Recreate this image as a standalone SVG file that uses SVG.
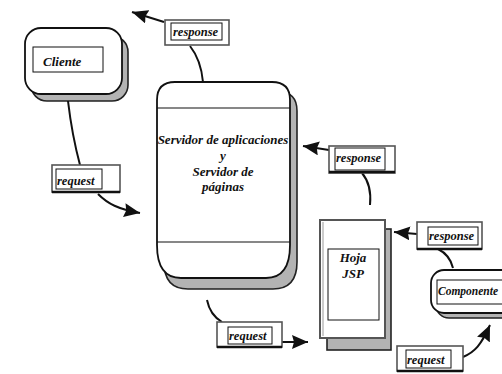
<svg xmlns="http://www.w3.org/2000/svg" width="502" height="374" viewBox="0 0 502 374">
  <style>
    .shade { fill: #b3b3b3; stroke: #222; stroke-width: 1.6; }
    .face { fill: #fff; stroke: #111; stroke-width: 1.8; }
    .inner { fill: #fff; stroke: #111; stroke-width: 1; }
    .rule { stroke: #111; stroke-width: 1.2; }
    .frame { fill: #fff; stroke: #555; stroke-width: 1.6; }
    .frame-base { stroke: #111; stroke-width: 2.4; }
    .t { font-family: "Liberation Serif", "Times New Roman", serif; font-weight: bold; font-style: italic; fill: #111; }
    .node { font-size: 13px; }
    .lab { font-size: 12.5px; }
    .wire { fill: none; stroke: #111; stroke-width: 2; }
  </style>
  <defs>
    <marker id="head" markerUnits="userSpaceOnUse" markerWidth="18" markerHeight="14" refX="16" refY="7" orient="auto">
      <path d="M0,0 L16,7 L0,14 L2,7 Z" fill="#111"/>
    </marker>
  </defs>

  <rect width="502" height="374" fill="#fff"/>

  <!-- Client -->
  <g id="cliente">
    <rect class="shade" x="31" y="36" width="97" height="65" rx="16"/>
    <rect class="face" x="25" y="28" width="97" height="66" rx="16"/>
    <rect class="inner" x="33" y="47" width="70" height="25"/>
    <text class="t node" x="43" y="66">Cliente</text>
  </g>

  <!-- Application / page server -->
  <g id="servidor">
    <path class="shade" d="M164,111 Q164,92 182,92 L279,92 Q297,92 297,111 L297,262 Q297,289 273,289 L188,289 Q164,289 164,262 Z"/>
    <path class="face" d="M157,100 Q157,82 175,82 L272,82 Q290,82 290,100 L290,245 Q290,278 266,278 L181,278 Q157,278 157,245 Z"/>
    <line class="rule" x1="157" y1="108" x2="290" y2="108"/>
    <line class="rule" x1="157" y1="242" x2="290" y2="242"/>
    <text class="t node" text-anchor="middle" x="223" y="144">Servidor de aplicaciones</text>
    <text class="t node" text-anchor="middle" x="223" y="160">y</text>
    <text class="t node" text-anchor="middle" x="223" y="176">Servidor de</text>
    <text class="t node" text-anchor="middle" x="223" y="191">páginas</text>
  </g>

  <!-- JSP page -->
  <g id="hoja-jsp">
    <rect class="shade" x="327" y="229" width="64" height="121"/>
    <rect x="320" y="220" width="65" height="118" fill="#fff" stroke="#555" stroke-width="2"/>
    <line x1="323" y1="222" x2="323" y2="336" stroke="#aaa" stroke-width="1.2"/>
    <rect class="inner" x="328" y="249" width="51" height="71"/>
    <text class="t node" text-anchor="middle" x="353" y="262">Hoja</text>
    <text class="t node" text-anchor="middle" x="353" y="278">JSP</text>
  </g>

  <!-- Component (runs past the right border) -->
  <g id="componente">
    <rect class="shade" x="436" y="276" width="90" height="42" rx="13"/>
    <rect class="face" x="431" y="270" width="90" height="43" rx="13"/>
    <rect class="inner" x="437" y="280" width="80" height="24"/>
    <text class="t" font-size="11.5" x="438" y="295">Componente</text>
  </g>

  <!-- Connectors -->
  <g id="connectors">
    <path class="wire" d="M68,101 Q72,135 80,165"/>
    <path class="wire" d="M98,194 C108,204 118,209 140,213" marker-end="url(#head)"/>
    <path class="wire" d="M203,82 Q201,60 190,46"/>
    <path class="wire" d="M164,22 L132,12" marker-end="url(#head)"/>
    <path class="wire" d="M329,150 L303,146" marker-end="url(#head)"/>
    <path class="wire" d="M362,173 Q372,185 370,205"/>
    <path class="wire" d="M207,300 Q210,315 222,322"/>
    <path class="wire" d="M282,342 L308,342" marker-end="url(#head)"/>
    <path class="wire" d="M453,268 Q450,255 438,249"/>
    <path class="wire" d="M417,234 L394,232" marker-end="url(#head)"/>
    <path class="wire" d="M463,357 C475,352 481,345 490,325" marker-end="url(#head)"/>
  </g>

  <!-- Message labels -->
  <g id="label-request-1">
    <rect class="frame" x="52" y="165" width="68" height="27"/>
    <line class="frame-base" x1="52" y1="192" x2="120" y2="192"/>
    <rect class="inner" x="56" y="169" width="46" height="20"/>
    <text class="t lab" x="57" y="185">request</text>
  </g>
  <g id="label-response-1">
    <rect class="frame" x="165" y="20" width="64" height="25"/>
    <rect class="inner" x="171" y="23" width="51" height="17"/>
    <text class="t lab" x="173" y="36">response</text>
  </g>
  <g id="label-response-2">
    <rect class="frame" x="329" y="146" width="66" height="27"/>
    <line class="frame-base" x1="329" y1="172" x2="395" y2="172"/>
    <rect class="inner" x="335" y="148" width="50" height="22"/>
    <text class="t lab" x="336" y="162">response</text>
  </g>
  <g id="label-request-2">
    <rect class="frame" x="217" y="322" width="65" height="25"/>
    <line class="frame-base" x1="217" y1="347" x2="282" y2="347"/>
    <rect class="inner" x="228" y="327" width="44" height="17"/>
    <text class="t lab" x="229" y="340">request</text>
  </g>
  <g id="label-response-3">
    <rect class="frame" x="417" y="222" width="65" height="27"/>
    <line class="frame-base" x1="417" y1="249" x2="482" y2="249"/>
    <rect class="inner" x="428" y="227" width="50" height="18"/>
    <text class="t lab" x="429" y="240">response</text>
  </g>
  <g id="label-request-3">
    <rect class="frame" x="397" y="346" width="66" height="25"/>
    <line class="frame-base" x1="397" y1="371" x2="463" y2="371"/>
    <rect class="inner" x="406" y="350" width="45" height="18"/>
    <text class="t lab" x="407" y="364">request</text>
  </g>
</svg>
